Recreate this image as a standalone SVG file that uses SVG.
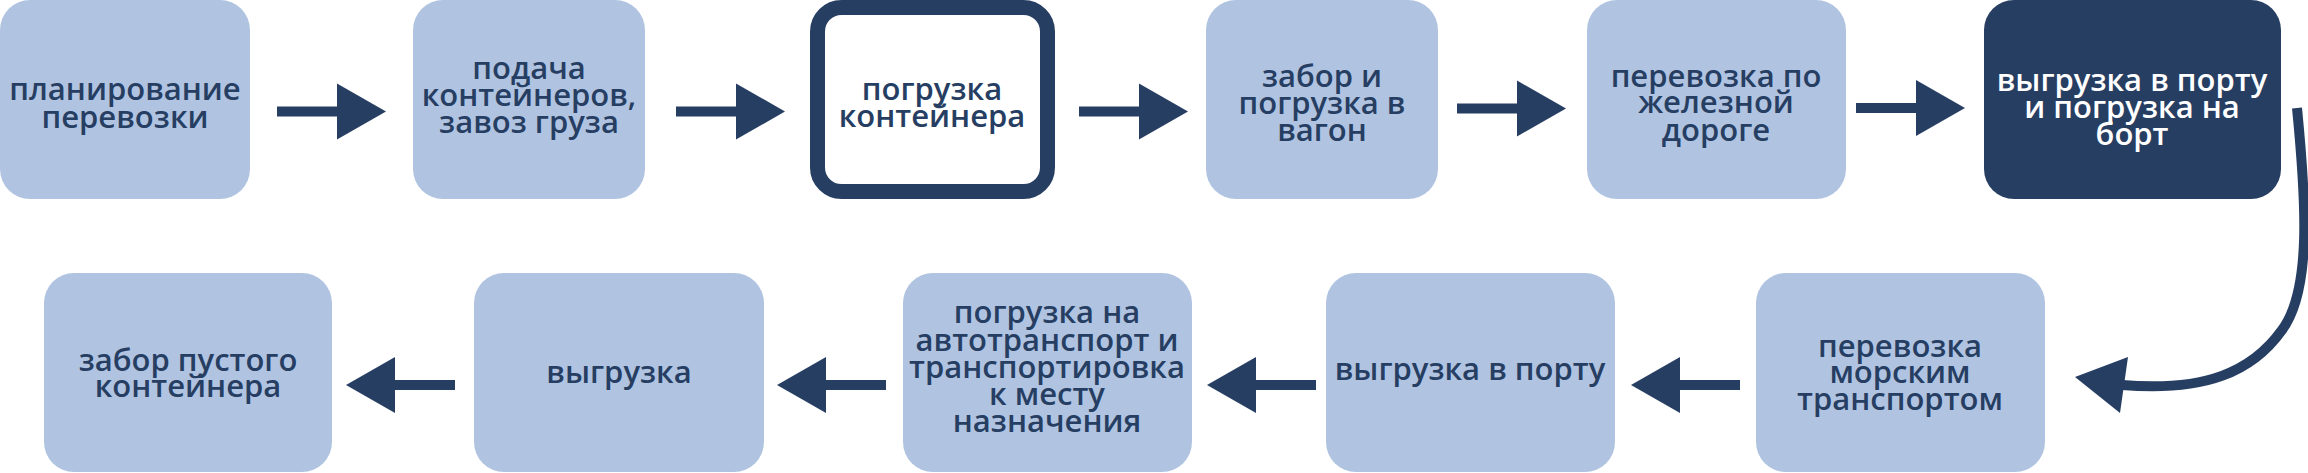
<svg xmlns="http://www.w3.org/2000/svg" width="2308" height="473" viewBox="0 0 2308 473">
<style>
.box{fill:#b0c4e2}
.dark{fill:#273e63}
.outl{fill:#ffffff;stroke:#273e63;stroke-width:15}
.t{font-family:"Open Sans","Liberation Sans",sans-serif;font-weight:600;font-size:31px;fill:#273e63;text-anchor:middle}
.w{fill:#ffffff}
.arr{fill:#273e63}
.curve{fill:none;stroke:#273e63;stroke-width:10}
</style>
<defs>
<path id="ar" d="M0 -5 H60 V-28 L109 0 L60 28 V5 H0 Z"/>
</defs>
<rect width="2308" height="473" fill="#ffffff"/>
<g id="n1"><rect class="box" x="0" y="0" width="250" height="199" rx="30"/>
<text class="t" x="125"><tspan x="125" y="100">планирование</tspan><tspan x="125" y="128">перевозки</tspan></text></g>
<g id="n2"><rect class="box" x="413" y="0" width="232" height="199" rx="30"/>
<text class="t"><tspan x="529" y="79">подача</tspan><tspan x="529" y="106">контейнеров,</tspan><tspan x="529" y="133">завоз груза</tspan></text></g>
<g id="n3"><rect class="outl" x="817.5" y="7.5" width="230" height="184" rx="24"/>
<text class="t"><tspan x="932" y="100">погрузка</tspan><tspan x="932" y="127">контейнера</tspan></text></g>
<g id="n4"><rect class="box" x="1206" y="0" width="232" height="199" rx="30"/>
<text class="t"><tspan x="1322" y="87">забор и</tspan><tspan x="1322" y="114">погрузка в</tspan><tspan x="1322" y="141">вагон</tspan></text></g>
<g id="n5"><rect class="box" x="1587" y="0" width="259" height="199" rx="30"/>
<text class="t"><tspan x="1716" y="87">перевозка по</tspan><tspan x="1716" y="113">железной</tspan><tspan x="1716" y="141">дороге</tspan></text></g>
<g id="n6"><rect class="dark" x="1984" y="0" width="297" height="199" rx="30"/>
<text class="t w"><tspan x="2132" y="91">выгрузка в порту</tspan><tspan x="2132" y="118">и погрузка на</tspan><tspan x="2132" y="145">борт</tspan></text></g>
<g id="n7"><rect class="box" x="1756" y="273" width="289" height="199" rx="30"/>
<text class="t"><tspan x="1900" y="357">перевозка</tspan><tspan x="1900" y="383">морским</tspan><tspan x="1900" y="410">транспортом</tspan></text></g>
<g id="n8"><rect class="box" x="1326" y="273" width="289" height="199" rx="30"/>
<text class="t"><tspan x="1470" y="380">выгрузка в порту</tspan></text></g>
<g id="n9"><rect class="box" x="903" y="273" width="289" height="199" rx="30"/>
<text class="t"><tspan x="1047" y="323">погрузка на</tspan><tspan x="1047" y="351">автотранспорт и</tspan><tspan x="1047" y="378">транспортировка</tspan><tspan x="1047" y="405">к месту</tspan><tspan x="1047" y="432">назначения</tspan></text></g>
<g id="n10"><rect class="box" x="474" y="273" width="290" height="199" rx="30"/>
<text class="t"><tspan x="619" y="383">выгрузка</tspan></text></g>
<g id="n11"><rect class="box" x="44" y="273" width="288" height="199" rx="30"/>
<text class="t"><tspan x="188" y="371">забор пустого</tspan><tspan x="188" y="397">контейнера</tspan></text></g>
<g id="connectors">
<use href="#ar" class="arr" transform="translate(277 111.5)"/>
<use href="#ar" class="arr" transform="translate(676 111.5)"/>
<use href="#ar" class="arr" transform="translate(1079 111.5)"/>
<use href="#ar" class="arr" transform="translate(1457 108.5)"/>
<use href="#ar" class="arr" transform="translate(1856 108)"/>
<path class="curve" d="M2297 108 C2306 200 2312 290 2282 330 C2252 372 2205 392 2122 385"/>
<polygon class="arr" points="2075,377 2128,357 2120,413"/>
<use href="#ar" class="arr" transform="translate(1740 385) scale(-1 1)"/>
<use href="#ar" class="arr" transform="translate(1316 385) scale(-1 1)"/>
<use href="#ar" class="arr" transform="translate(886 385) scale(-1 1)"/>
<use href="#ar" class="arr" transform="translate(455 385) scale(-1 1)"/>
</g>
</svg>
